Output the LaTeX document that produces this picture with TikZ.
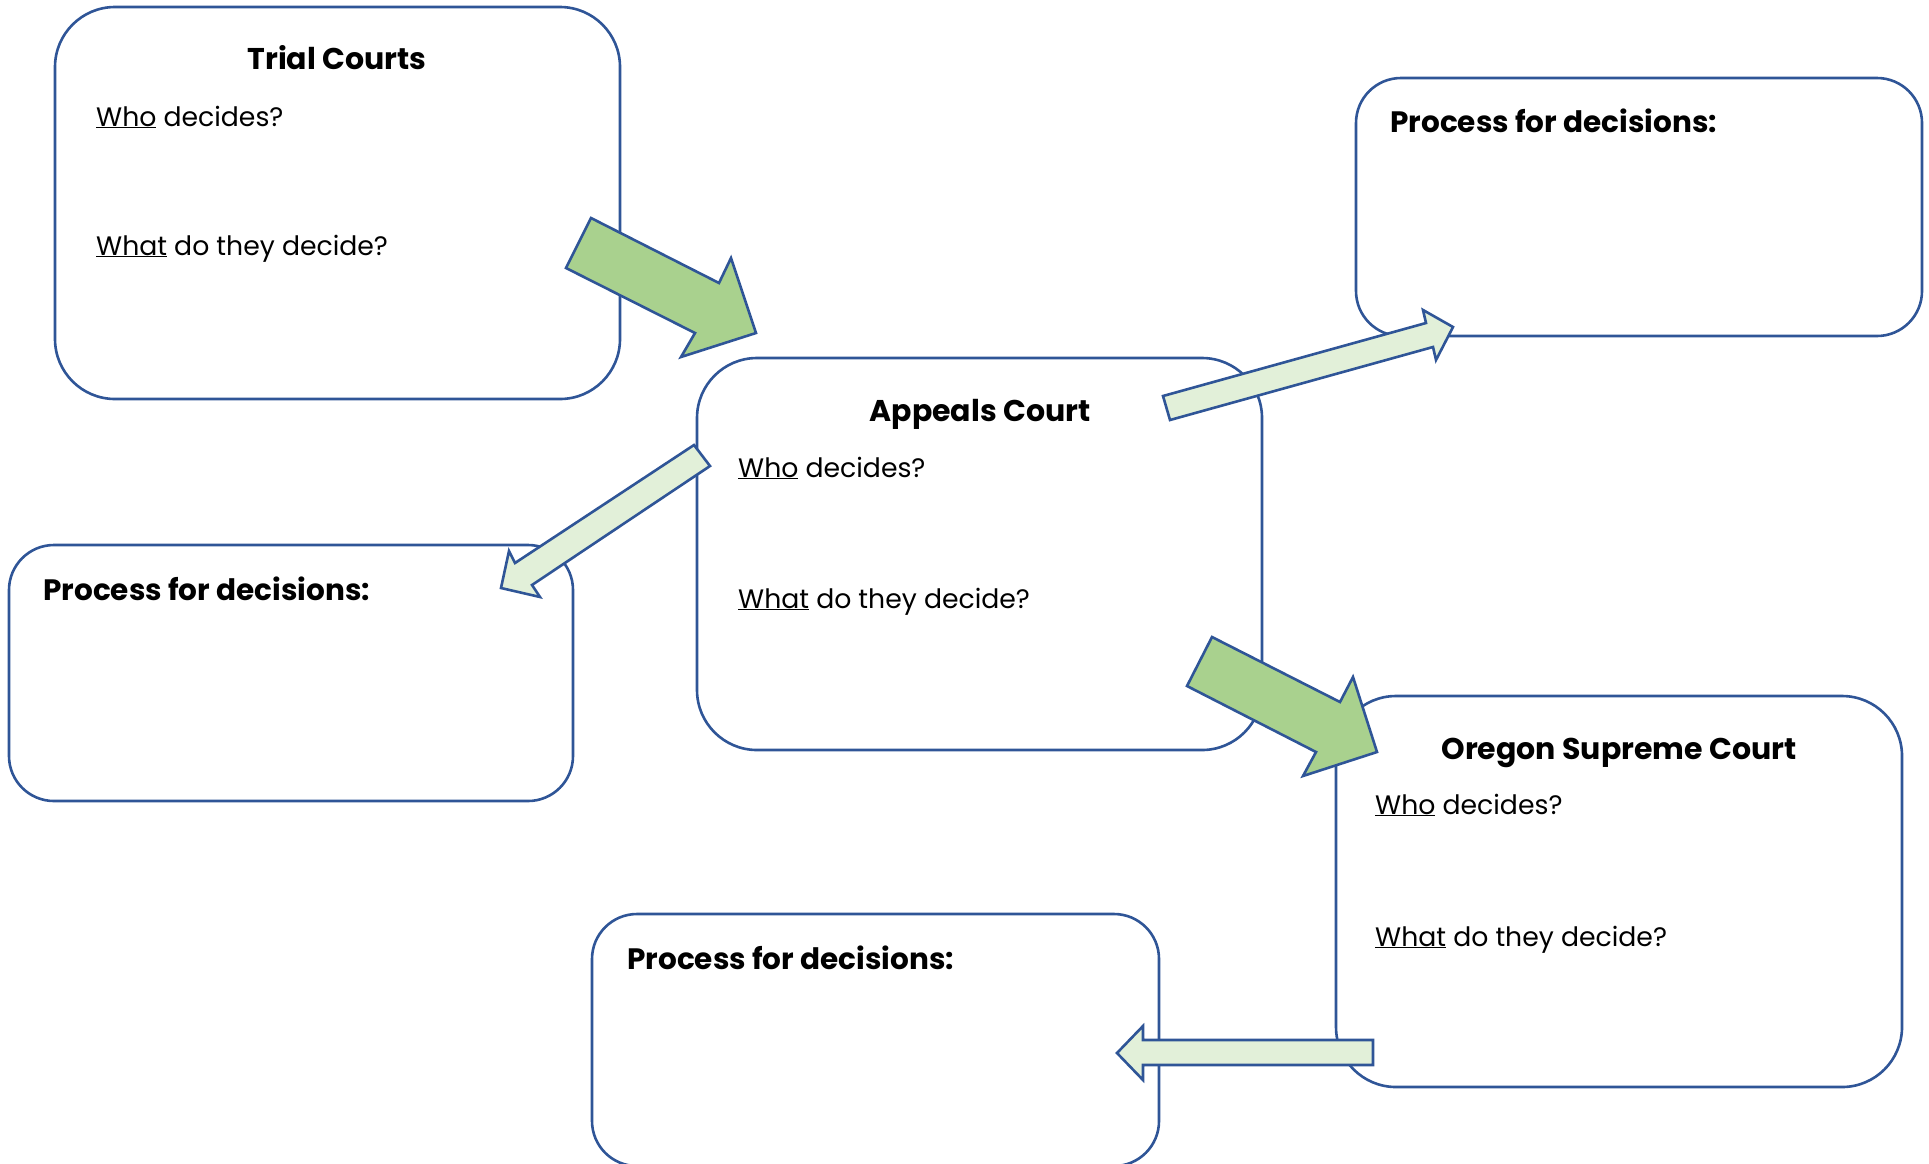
\documentclass[tikz,border=0pt]{standalone}
\usepackage{fontspec}
\setmainfont{Poppins}
\definecolor{edge}{HTML}{2F5597}
\definecolor{darkfill}{HTML}{A9D18E}
\definecolor{lightfill}{HTML}{E2F0D9}
\begin{document}
\begin{tikzpicture}[x=1pt,y=-1pt,
  court/.style={draw=edge,line width=2.6pt,fill=white,rounded corners=60pt},
  procbox/.style={draw=edge,line width=2.6pt,fill=white,rounded corners=45pt},
  bigarrow/.style={draw=edge,line width=2.6pt,fill=darkfill,line join=miter},
  thinarrow/.style={draw=edge,line width=2.6pt,fill=lightfill,line join=miter},
  titletext/.style={anchor=base,inner sep=0pt,font=\fontsize{30}{36}\selectfont\bfseries},
  bodytext/.style={anchor=base west,inner sep=0pt,font=\fontsize{26.7}{32}\selectfont},
  proctext/.style={anchor=base west,inner sep=0pt,font=\fontsize{29.5}{35}\selectfont\bfseries}]
\useasboundingbox (0,0) rectangle (1929,1163);
% boxes
\draw[court] (55,7) rectangle (620,399);
\draw[procbox] (1356,78) rectangle (1922,336);
\draw[court] (697,358) rectangle (1262,750);
\draw[procbox] (9,545) rectangle (573,801);
\draw[court] (1336,696) rectangle (1902,1087);
\draw[procbox] (592,914) rectangle (1159,1166);
% texts
\node[titletext] (t1) at (337,69) {Trial Courts};
\node[bodytext] (w1) at (96,126) {\underline{Who} decides?};
\node[bodytext] (d1) at (96,255) {\underline{What} do they decide?};
\node[titletext] (t2) at (980,421) {Appeals Court};
\node[bodytext] (w2) at (738,477) {\underline{Who} decides?};
\node[bodytext] (d2) at (738,608) {\underline{What} do they decide?};
\node[titletext] (t3) at (1619,759) {Oregon Supreme Court};
\node[bodytext] (w3) at (1375,814) {\underline{Who} decides?};
\node[bodytext] (d3) at (1375,946) {\underline{What} do they decide?};
\node[proctext] (p1) at (1390,132) {Process for decisions:};
\node[proctext] (p2) at (43,600) {Process for decisions:};
\node[proctext] (p3) at (627,969) {Process for decisions:};
% arrows
\draw[bigarrow] (591,218) -- (719,283) -- (731,258) -- (756,333) -- (681,357) -- (695,333) -- (566,268) -- cycle;
\draw[thinarrow] (1163,396) -- (1426,323) -- (1423,310) -- (1453,327) -- (1436,360) -- (1433,347) -- (1170,420) -- cycle;
\draw[thinarrow] (694,445) -- (710,466) -- (532,585) -- (540,597) -- (501,588) -- (509,551) -- (515,563) -- cycle;
\draw[bigarrow] (1212,637) -- (1340,702) -- (1353,677) -- (1377,752) -- (1303,776) -- (1316,752) -- (1187,686) -- cycle;
\draw[thinarrow] (1373,1040) -- (1373,1065) -- (1143,1065) -- (1143,1080) -- (1117,1053) -- (1143,1026) -- (1143,1040) -- cycle;
\end{tikzpicture}
\end{document}
